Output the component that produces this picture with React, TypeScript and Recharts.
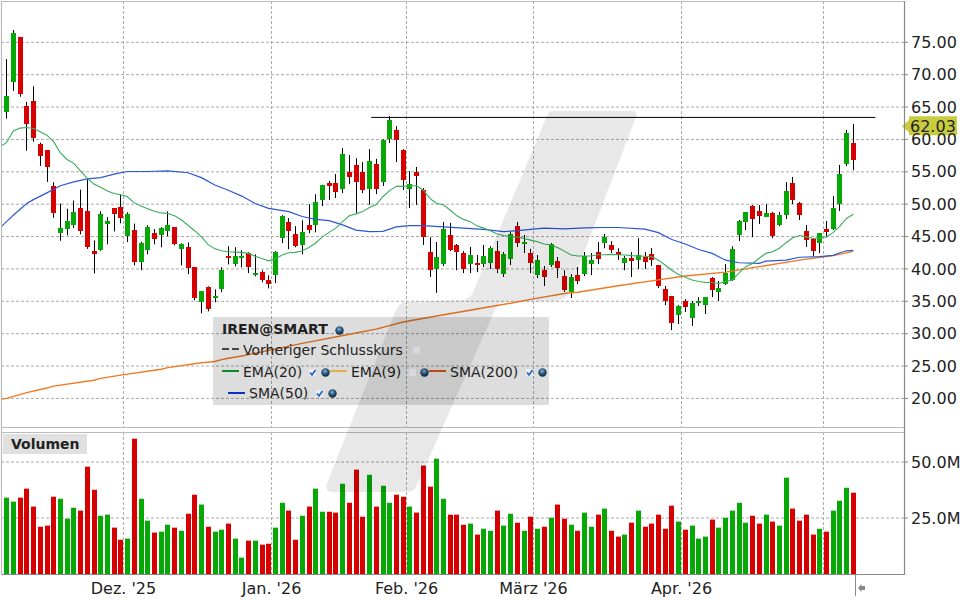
import React from 'react';
import {
  ComposedChart, Bar, Line, XAxis, YAxis, CartesianGrid, ReferenceLine, ReferenceDot,
} from 'recharts';

// Every series starts one session before index 0 (the candle cut off by the left edge).
const opens = [73.0, 64.3, 68.9, 75.8, 65.15, 65.9, 59.3, 58.35, 52.8, 45.5, 46.15, 46.75, 49.4, 48.9, 42.7, 42.9, 46.9, 49.4, 49.55, 45.05, 46.0, 41.05, 42.9, 45.5, 45.2, 45.8, 46.45, 43.05, 43.35, 40.25, 34.85, 37.15, 35.45, 36.85, 41.95, 40.7, 41.65, 42.4, 39.05, 39.5, 38.25, 39.05, 44.75, 47.2, 45.35, 43.65, 46.75, 46.75, 50.65, 53.3, 53.3, 52.35, 54.95, 56.05, 54.95, 52.35, 56.2, 53.4, 60.05, 61.45, 58.35, 52.35, 54.95, 52.2, 42.6, 40.0, 40.75, 45.25, 43.7, 42.45, 40.75, 40.9, 40.75, 40.9, 42.75, 39.2, 41.5, 46.6, 43.85, 42.45, 39.05, 39.8, 40.6, 41.2, 38.9, 36.45, 39.05, 39.2, 40.75, 42.6, 44.0, 43.7, 42.6, 40.9, 41.65, 41.35, 41.85, 42.3, 40.6, 36.9, 35.8, 32.9, 35.05, 32.4, 34.75, 34.4, 38.6, 36.45, 37.65, 38.3, 45.25, 47.25, 49.7, 48.95, 48.0, 48.65, 46.8, 48.3, 53.25, 50.2, 45.85, 44.6, 44.0, 46.15, 46.15, 50.0, 56.2, 59.45];
const highs = [73.0, 72.4, 76.9, 75.8, 65.8, 68.2, 59.5, 58.35, 53.4, 50.1, 49.3, 50.55, 52.25, 53.95, 44.4, 48.9, 48.0, 49.4, 51.45, 48.75, 47.0, 44.2, 46.75, 46.15, 46.45, 48.9, 46.45, 43.95, 44.1, 40.25, 36.6, 37.3, 36.85, 40.25, 43.5, 43.35, 42.9, 42.6, 42.25, 39.8, 39.0, 42.75, 48.3, 47.85, 46.6, 47.5, 50.0, 51.55, 53.0, 53.6, 54.65, 58.65, 57.6, 57.1, 56.5, 58.5, 57.0, 60.05, 63.6, 62.05, 58.5, 55.1, 55.75, 52.5, 44.9, 44.15, 47.25, 47.1, 43.85, 42.75, 43.4, 42.15, 43.7, 43.5, 44.3, 42.6, 45.7, 47.25, 45.25, 43.1, 42.15, 40.45, 44.0, 41.85, 39.8, 39.2, 40.3, 42.6, 42.45, 44.15, 45.4, 44.3, 43.2, 42.0, 42.6, 44.75, 42.6, 43.2, 40.6, 37.35, 35.8, 34.4, 35.35, 35.05, 35.65, 35.65, 38.75, 38.15, 40.75, 43.5, 47.55, 48.8, 49.85, 49.85, 50.0, 48.8, 48.8, 53.4, 54.2, 50.35, 46.8, 44.75, 45.55, 47.4, 51.25, 56.05, 61.45, 62.4];
const lows = [67.9, 63.2, 67.5, 66.6, 58.25, 59.65, 55.9, 53.45, 47.9, 44.35, 45.2, 46.3, 45.35, 43.1, 39.3, 42.8, 43.8, 45.8, 47.05, 44.15, 40.55, 39.8, 42.25, 43.8, 43.35, 45.05, 43.65, 40.55, 39.2, 35.15, 33.15, 33.45, 34.85, 36.4, 40.7, 40.4, 40.25, 39.35, 38.85, 37.95, 37.0, 37.8, 44.0, 43.05, 43.35, 42.25, 45.5, 45.65, 49.7, 50.65, 50.95, 51.7, 53.1, 48.65, 51.7, 49.9, 51.55, 52.8, 59.45, 56.5, 52.2, 49.4, 49.9, 43.7, 38.75, 36.3, 40.45, 42.75, 39.8, 39.35, 39.35, 39.5, 40.3, 40.0, 39.35, 38.75, 40.6, 43.4, 42.45, 39.35, 38.6, 37.35, 40.3, 38.6, 36.45, 35.5, 37.65, 38.9, 39.05, 40.75, 43.2, 42.45, 41.4, 39.8, 38.75, 40.0, 40.0, 40.45, 37.05, 34.4, 30.55, 31.5, 33.35, 31.2, 34.3, 33.05, 35.65, 35.05, 37.5, 38.15, 44.3, 46.0, 44.9, 46.95, 48.0, 44.75, 46.6, 47.7, 50.0, 47.55, 43.4, 42.0, 42.45, 44.9, 46.0, 48.95, 55.9, 55.25];
const closes = [67.9, 66.7, 76.45, 67.05, 62.4, 60.25, 57.5, 55.8, 48.65, 46.3, 47.4, 48.75, 45.8, 43.35, 42.25, 48.45, 47.4, 48.45, 47.85, 48.45, 41.05, 43.95, 46.45, 44.6, 46.3, 46.75, 43.8, 43.8, 40.1, 35.45, 36.55, 33.75, 35.8, 39.8, 41.65, 41.95, 41.95, 40.25, 39.35, 38.25, 37.65, 42.6, 48.15, 45.8, 43.5, 45.65, 46.0, 50.3, 52.95, 52.8, 51.9, 57.75, 54.2, 53.4, 52.2, 56.65, 52.35, 59.9, 63.0, 59.9, 53.7, 53.1, 54.35, 44.9, 39.8, 41.85, 46.15, 42.9, 42.6, 40.0, 42.15, 40.6, 42.0, 43.2, 40.0, 42.3, 45.4, 44.0, 44.15, 40.9, 41.35, 38.75, 43.85, 40.15, 36.75, 38.75, 38.15, 42.0, 41.35, 41.5, 44.95, 42.9, 42.15, 41.65, 41.2, 42.15, 41.05, 41.35, 37.35, 35.05, 31.65, 34.25, 34.1, 34.75, 35.05, 35.65, 36.75, 37.05, 39.35, 43.05, 47.4, 48.8, 47.7, 48.15, 48.65, 45.1, 48.3, 52.0, 50.65, 48.3, 44.45, 42.75, 45.55, 45.7, 49.4, 54.65, 61.0, 56.8];
const volumes = [52.8, 34.1, 32.3, 34.1, 38.1, 30.1, 21.1, 21.6, 34.5, 33.6, 24.7, 29.6, 28.3, 47.9, 37.6, 26.0, 26.5, 20.7, 15.3, 15.8, 60.4, 33.6, 23.8, 18.5, 18.9, 22.0, 20.7, 19.3, 26.9, 35.4, 31.0, 21.1, 18.9, 19.8, 22.5, 15.8, 7.3, 14.9, 14.9, 13.1, 13.5, 20.7, 31.8, 28.3, 15.3, 26.0, 30.1, 38.1, 27.8, 27.8, 27.4, 40.3, 31.8, 46.6, 25.6, 44.3, 30.1, 39.4, 31.8, 35.4, 34.5, 30.1, 27.4, 48.4, 39.0, 51.5, 33.6, 26.5, 26.5, 22.0, 22.5, 17.6, 20.2, 19.3, 28.3, 21.6, 26.9, 22.9, 19.3, 25.6, 20.2, 21.1, 25.1, 31.0, 24.7, 22.0, 19.3, 27.4, 21.1, 26.5, 29.2, 19.3, 16.7, 17.6, 22.9, 28.3, 21.1, 22.5, 26.5, 20.2, 30.5, 23.4, 19.8, 21.6, 15.8, 16.7, 24.3, 20.7, 25.1, 28.3, 31.8, 22.9, 26.0, 22.5, 26.5, 23.4, 21.6, 43.0, 29.2, 23.8, 26.5, 17.6, 20.2, 18.9, 28.3, 32.7, 38.5, 36.3];
const ema20 = [58.9, 59.5, 61.3, 61.75, 61.85, 61.7, 61.2, 60.65, 59.65, 57.95, 56.9, 56.3, 55.15, 54.0, 53.1, 52.6, 52.05, 51.65, 51.45, 51.15, 50.2, 49.7, 49.3, 48.9, 48.65, 48.55, 48.2, 47.6, 46.75, 45.9, 44.95, 43.75, 43.1, 42.8, 42.65, 42.6, 42.55, 42.4, 41.95, 41.6, 41.25, 41.55, 42.15, 42.5, 42.55, 42.8, 43.3, 44.0, 44.95, 45.65, 46.3, 47.3, 48.2, 48.5, 48.85, 49.5, 49.95, 51.15, 52.1, 52.75, 52.75, 52.85, 52.85, 52.2, 50.9, 50.1, 49.9, 49.1, 48.2, 47.65, 47.3, 46.65, 46.3, 45.9, 45.4, 45.15, 44.95, 44.95, 44.7, 44.45, 44.2, 43.85, 43.7, 43.3, 42.75, 42.15, 42.0, 42.0, 42.0, 42.2, 42.2, 42.25, 42.2, 42.15, 42.05, 42.0, 41.95, 41.9, 41.35, 40.6, 39.8, 39.15, 38.7, 38.3, 38.05, 37.9, 37.9, 37.75, 38.05, 38.3, 39.4, 40.35, 40.85, 41.65, 42.4, 42.65, 43.2, 44.05, 44.8, 45.15, 44.95, 44.7, 44.8, 44.95, 45.6, 46.6, 47.8, 48.45];
const sma50Index = [-1, 0, 1, 3, 4, 6, 8, 10, 12, 14, 16, 18, 21, 24, 27, 29, 31, 33, 35, 37, 39, 42, 44, 46, 48, 50, 52, 54, 56, 58, 60, 62, 65, 68, 71, 74, 76, 78, 80, 83, 86, 89, 91, 95, 97, 99, 101, 103, 105, 107, 109, 112, 113, 116, 118, 121, 123, 124, 125, 126];
const sma50Values = [46.3, 47.3, 48.3, 50.1, 50.7, 51.75, 52.85, 53.45, 53.9, 54.1, 54.65, 55.05, 55.05, 55.15, 54.85, 54.1, 52.95, 52.15, 51.25, 50.1, 49.35, 48.85, 48.1, 47.65, 47.45, 46.8, 46.0, 45.75, 45.8, 46.5, 46.7, 46.7, 46.5, 46.3, 46.1, 45.75, 45.9, 46.1, 46.3, 46.2, 46.35, 46.4, 46.4, 46.15, 45.6, 44.55, 43.85, 43.0, 42.4, 41.35, 40.95, 40.85, 41.2, 41.35, 41.8, 41.9, 42.1, 42.5, 42.8, 42.85];
const sma200Index = [-1, 0, 3, 6, 7, 13, 14, 17, 23, 24, 29, 31, 32, 33, 35, 44, 52, 55, 59, 64, 70, 75, 78, 83, 85, 91, 97, 101, 107, 112, 118, 123, 126];
const sma200Values = [19.85, 20.0, 20.9, 21.6, 21.9, 22.8, 23.1, 23.6, 24.5, 24.75, 25.5, 25.7, 26.0, 26.2, 26.55, 28.5, 30.1, 30.7, 31.8, 32.73, 33.8, 34.7, 35.3, 36.2, 36.4, 37.4, 38.3, 38.9, 39.5, 40.35, 41.35, 42.05, 42.7];

const priceTicks = [20, 25, 30, 35, 40, 45, 50, 55, 60, 65, 70, 75];
const volumeTicks = [25, 50];
const monthTicks = [17.4, 39.43, 59.52, 78.42, 100.44, 121.57];
const monthLabels = ["Dez. '25", "Jan. '26", "Feb. '26", "März '26", "Apr. '26", ""];
const lastPrice = 62.03;
const resistance = { from: 54.27, to: 129.27, price: 63.4 };

const rows = opens.map((open, i) => {
  const idx = i - 1;
  const a = sma50Index.indexOf(idx);
  const b = sma200Index.indexOf(idx);
  return {
    idx, open, high: highs[i], low: lows[i], close: closes[i],
    range: [lows[i], highs[i]],
    volume: volumes[i], ema20: ema20[i],
    sma50: a >= 0 ? sma50Values[a] : null,
    sma200: b >= 0 ? sma200Values[b] : null,
  };
});

const FONT = '"DejaVu Sans", sans-serif';
const GREEN = '#06a806';
const RED = '#d60000';
const X_DOMAIN: [number, number] = [-0.826, 133.7];

const Candle = (p: any) => {
  const { x, y, width, height, payload: d } = p;
  const top = Math.min(y, y + height);
  const h = Math.abs(height);
  const k = h / (d.high - d.low);
  const cx = Math.floor(x + width / 2);
  const yo = top + (d.high - d.open) * k;
  const yc = top + (d.high - d.close) * k;
  const bodyTop = Math.round(Math.min(yo, yc));
  const bodyH = Math.max(2, Math.round(Math.abs(yo - yc)));
  return (
    <g>
      <rect x={cx} y={top} width={1} height={h} fill="#000" />
      <rect x={cx - 2} y={bodyTop} width={5} height={bodyH} fill={d.close >= d.open ? GREEN : RED} />
    </g>
  );
};

const VolumeBar = (p: any) => {
  const { x, y, width, height, payload: d } = p;
  const cx = Math.floor(x + width / 2);
  return <rect x={cx - 2} y={y} width={5} height={height} fill={d.close >= d.open ? GREEN : RED} />;
};

const PriceTag = (p: any) => {
  const { cx, cy } = p;
  return (
    <g>
      <path d={`M${cx - 3} ${cy} L${cx + 4} ${cy - 6} L${cx + 4} ${cy - 10} L${cx + 52} ${cy - 10} L${cx + 52} ${cy + 9} L${cx + 4} ${cy + 9} L${cx + 4} ${cy + 6} Z`} fill="#c9cd3d" />
      <text x={cx + 5} y={cy + 6} fontFamily={FONT} fontSize={16} fill="#222">{lastPrice.toFixed(2)}</text>
    </g>
  );
};

const MonthTick = (p: any) => {
  const { x, y, payload } = p;
  const label = monthLabels[monthTicks.indexOf(payload.value)];
  return <text x={x} y={y + 12} textAnchor="middle" fontFamily={FONT} fontSize={16} fill="#222">{label}</text>;
};

const Globe = ({ x, y }: { x: number; y: number }) => (
  <svg width={9} height={9} style={{ position: 'absolute', left: x - 4.5, top: y - 4.5 }}>
    <defs>
      <radialGradient id={`g${x}${y}`} cx="0.45" cy="0.35" r="0.7">
        <stop offset="0" stopColor="#8fb6d4" />
        <stop offset="0.45" stopColor="#2c5a80" />
        <stop offset="1" stopColor="#081c30" />
      </radialGradient>
    </defs>
    <circle cx={4.5} cy={4.5} r={4.2} fill={`url(#g${x}${y})`} />
  </svg>
);

const Check = ({ x, y, on }: { x: number; y: number; on: boolean }) => (
  <svg width={9} height={9} style={{ position: 'absolute', left: x - 4.5, top: y - 4.5 }}>
    <rect x={1} y={1} width={7} height={7} fill="#eeeef2" />
    {on ? <path d="M2 4.5 L4 7 L7.5 2" fill="none" stroke="#1c5fd0" strokeWidth={1.6} /> : null}
  </svg>
);

const Lbl = ({ x, y, text, bold, color = '#222' }: any) => (
  <span style={{ position: 'absolute', left: x, top: y - 10, height: 20, lineHeight: '20px', fontFamily: FONT, fontSize: 14, fontWeight: bold ? 700 : 400, color, whiteSpace: 'nowrap' }}>{text}</span>
);

const Swatch = ({ x, y, color, dashed }: any) => (
  <svg width={18} height={2} style={{ position: 'absolute', left: x, top: y - 1, display: 'block' }}>
    <line x1={0} x2={17} y1={1} y2={1} stroke={color} strokeWidth={2} strokeDasharray={dashed ? '7 3' : undefined} />
  </svg>
);

export default function App() {
  return (
    <div style={{ position: 'absolute', left: 0, top: 0, width: 960, height: 600, background: '#fff', overflow: 'hidden' }}>
      {/* price pane */}
      <div style={{ position: 'absolute', left: 0, top: 0 }}>
        <ComposedChart width={960} height={430} data={rows} margin={{ top: 1, right: 0, bottom: 2, left: 1 }}>
          <CartesianGrid stroke="#aaa" strokeDasharray="3 2" verticalValues={monthTicks} horizontalValues={priceTicks} />
          <XAxis type="number" dataKey="idx" domain={X_DOMAIN} ticks={monthTicks} allowDataOverflow hide />
          <YAxis orientation="right" type="number" domain={[15.43, 81.38]} ticks={priceTicks} allowDataOverflow width={55} interval={0}
            tickFormatter={(v: number) => v.toFixed(2)} axisLine={false} tick={{ fontFamily: FONT, fontSize: 16, fill: '#222' }}
            tickLine={{ stroke: '#888' }} tickSize={3} tickMargin={3} />
          <Bar dataKey="range" barSize={5} shape={Candle} isAnimationActive={false} />
          <Line dataKey="sma200" stroke="#f07a24" strokeWidth={1.4} dot={false} connectNulls isAnimationActive={false} />
          <Line dataKey="sma50" stroke="#2a56d8" strokeWidth={1.2} dot={false} connectNulls isAnimationActive={false} />
          <Line dataKey="ema20" stroke="#38ad5c" strokeWidth={1.1} dot={false} isAnimationActive={false} />
          <ReferenceLine segment={[{ x: resistance.from, y: resistance.price }, { x: resistance.to, y: resistance.price }]} stroke="#000" strokeWidth={1} ifOverflow="visible" />
          <ReferenceDot x={X_DOMAIN[1]} y={lastPrice} shape={PriceTag} ifOverflow="visible" />
        </ComposedChart>
      </div>

      {/* volume pane */}
      <div style={{ position: 'absolute', left: 0, top: 432 }}>
        <ComposedChart width={960} height={168} data={rows} margin={{ top: 0, right: 0, bottom: 0, left: 1 }}>
          <CartesianGrid stroke="#aaa" strokeDasharray="3 2" verticalValues={monthTicks} horizontalValues={volumeTicks} />
          <XAxis type="number" dataKey="idx" domain={X_DOMAIN} ticks={monthTicks} allowDataOverflow height={26} interval={0}
            axisLine={false} tickLine={false} tick={MonthTick} />
          <YAxis orientation="right" type="number" domain={[0, 63.4]} ticks={volumeTicks} allowDataOverflow width={55} interval={0}
            tickFormatter={(v: number) => `${v.toFixed(1)}M`} axisLine={false} tick={{ fontFamily: FONT, fontSize: 16, fill: '#222' }}
            tickLine={{ stroke: '#888' }} tickSize={3} tickMargin={3} />
          <Bar dataKey="volume" barSize={5} shape={VolumeBar} isAnimationActive={false} />
        </ComposedChart>
      </div>

      {/* pane frames and the end-of-data marker */}
      <svg width={960} height={600} style={{ position: 'absolute', left: 0, top: 0, pointerEvents: 'none' }}>
        <path d="M1.5 574 L1.5 1.5 L905 1.5 M1.5 427.5 L905 427.5 M1.5 432.5 L905 432.5" fill="none" stroke="#bbb" strokeWidth={1.2} />
        <path d="M1.5 574.5 L905 574.5 M904.5 1 L904.5 575" fill="none" stroke="#888" strokeWidth={1.2} />
        <path d="M855.5 574 L855.5 596" stroke="#888" strokeWidth={1} />
        <path d="M858 588 L861.5 584 L861.5 586 L865 586 L865 590 L861.5 590 L861.5 592 Z" fill="#888" />
      </svg>

      {/* volume caption */}
      <div style={{ position: 'absolute', left: 3, top: 434, width: 84, height: 20, background: '#e0e0e0' }} />
      <Lbl x={11} y={444} text="Volumen" bold />

      {/* legend */}
      <div style={{ position: 'absolute', left: 213, top: 317, width: 336, height: 88, background: 'rgba(0,0,0,0.135)' }} />
      <Lbl x={222} y={329} text="IREN@SMART" bold />
      <Globe x={339} y={330} />
      <Swatch x={222} y={349} color="#444" dashed />
      <Lbl x={243} y={350} text="Vorheriger Schlusskurs" />
      <Check x={416} y={350} on={false} />
      <Swatch x={222} y={371} color="#0a8a2a" />
      <Lbl x={243} y={372} text="EMA(20)" />
      <Check x={312} y={372} on />
      <Globe x={325} y={372} />
      <Swatch x={330} y={371} color="#e0b050" />
      <Lbl x={351} y={372} text="EMA(9)" />
      <Check x={412} y={372} on={false} />
      <Globe x={424} y={372} />
      <Swatch x={429} y={371} color="#d05010" />
      <Lbl x={450} y={372} text="SMA(200)" />
      <Check x={529} y={372} on />
      <Globe x={542} y={372} />
      <Swatch x={228} y={393} color="#0a30c0" />
      <Lbl x={249} y={393} text="SMA(50)" />
      <Check x={319} y={393} on />
      <Globe x={332} y={393} />

      {/* watermark */}
      <svg width={960} height={600} style={{ position: 'absolute', left: 0, top: 0, pointerEvents: 'none' }}>
        <path d="M552 111 L632 111 Q638 111 636 117 L569 292 Q566 300 556 301 L505 302 Q498 303 495 310 L416 487 Q413 492 407 492 L333 492 Q324 492 327 483 L396 310 Q399 303 405 302 L463 300 Q470 299 473 292 L547 116 Q549 111 552 111 Z" fill="rgba(0,0,0,0.09)" />
      </svg>
    </div>
  );
}
